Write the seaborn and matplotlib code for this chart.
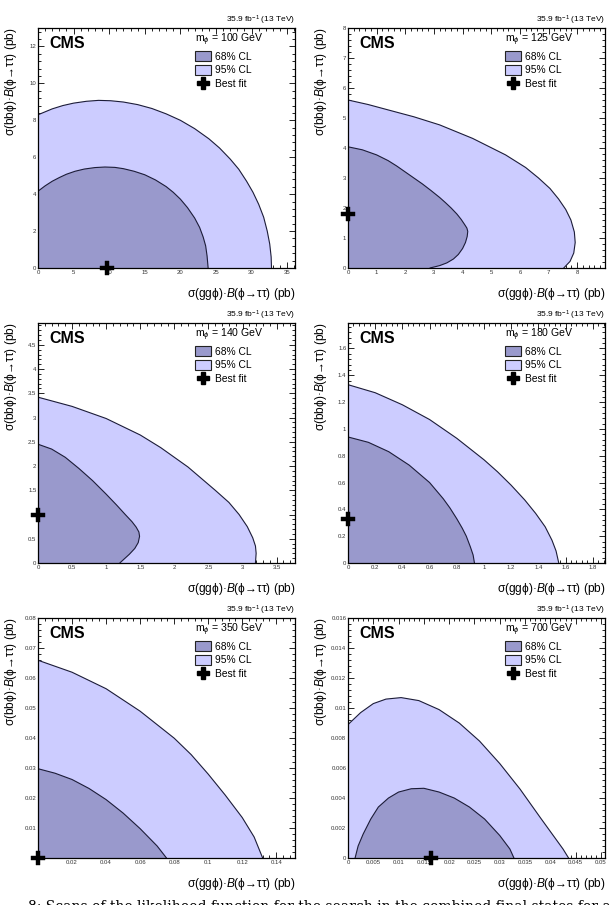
"""
2D likelihood scans sigma(gg phi)*B vs sigma(bb phi)*B, six mass points.
"""

import numpy as np
import matplotlib
matplotlib.use("Agg")
import matplotlib.pyplot as plt
import seaborn as sns
from matplotlib.patches import Patch
from matplotlib.lines import Line2D
from matplotlib.ticker import MultipleLocator, AutoMinorLocator, FuncFormatter

MASSES = [100, 125, 140, 180, 350, 700]

# ---- contours (x = ggphi, y = bbphi, in pb) ----
CL95_X_100 = [0, 2, 3.5, 5, 6.8, 8.5, 10.2, 12, 14, 16, 18, 20, 22, 24, 25.5, 27, 28.2,
              29.3, 30.2, 31.0, 31.7, 32.2, 32.55, 32.75, 32.8]
CL95_Y_100 = [8.3, 8.62, 8.8, 8.93, 9.03, 9.08, 9.06, 8.99, 8.85, 8.64, 8.35, 8.0, 7.55,
              7.0, 6.5, 5.9, 5.35, 4.7, 4.1, 3.45, 2.75, 2.0, 1.3, 0.6, 0]
CL68_X_100 = [0, 1, 2, 3, 4, 5.2, 6.5, 8, 9.4, 10.8, 12, 13.5, 15, 16.5, 18, 19, 20, 21,
              22, 22.7, 23.2, 23.55, 23.75, 23.9]
CL68_Y_100 = [4.16, 4.45, 4.7, 4.9, 5.08, 5.24, 5.36, 5.44, 5.47, 5.45, 5.38, 5.24, 5.05,
              4.77, 4.41, 4.1, 3.73, 3.27, 2.71, 2.2, 1.68, 1.2, 0.65, 0]

CL95_X_125 = [0, 0.7, 1.4, 2.3, 3.2, 4.35, 5.5, 6.2, 6.65, 7.05, 7.35, 7.6, 7.78, 7.9,
              7.93, 7.88, 7.75, 7.53]
CL95_Y_125 = [5.6, 5.45, 5.27, 5.04, 4.77, 4.32, 3.77, 3.35, 3.0, 2.65, 2.3, 1.95, 1.6,
              1.2, 0.85, 0.5, 0.22, 0]
CL68_X_125 = [0, 0.5, 1.0, 1.4, 1.7, 2.0, 2.3, 2.6, 2.9, 3.2, 3.4, 3.6, 3.8, 3.95, 4.07,
              4.15, 4.18, 4.16, 4.1, 4.0, 3.85, 3.68, 3.45, 3.2, 2.86]
CL68_Y_125 = [4.04, 3.94, 3.77, 3.58, 3.4, 3.2, 3.0, 2.8, 2.58, 2.35, 2.18, 2.0, 1.8,
              1.62, 1.45, 1.33, 1.22, 1.05, 0.85, 0.65, 0.45, 0.3, 0.17, 0.08, 0]

CL95_X_140 = [0, 0.5, 1.0, 1.5, 1.8, 2.2, 2.6, 2.8, 2.95, 3.07, 3.15, 3.19, 3.2, 3.19]
CL95_Y_140 = [3.42, 3.23, 2.98, 2.64, 2.38, 1.98, 1.5, 1.25, 1.0, 0.75, 0.52, 0.35, 0.2, 0]
CL68_X_140 = [0, 0.2, 0.4, 0.6, 0.8, 1.0, 1.15, 1.28, 1.38, 1.44, 1.48, 1.49, 1.47, 1.42,
              1.34, 1.2]
CL68_Y_140 = [2.45, 2.35, 2.18, 1.95, 1.7, 1.42, 1.2, 1.0, 0.85, 0.74, 0.64, 0.55, 0.42,
              0.3, 0.18, 0]

CL95_X_180 = [0, 0.2, 0.4, 0.6, 0.8, 1.0, 1.1, 1.2, 1.3, 1.38, 1.45, 1.5, 1.53, 1.55]
CL95_Y_180 = [1.33, 1.27, 1.18, 1.07, 0.93, 0.77, 0.68, 0.58, 0.47, 0.37, 0.27, 0.17, 0.09, 0]
CL68_X_180 = [0, 0.15, 0.3, 0.45, 0.6, 0.65, 0.7, 0.75, 0.8, 0.84, 0.87, 0.9, 0.92, 0.93]
CL68_Y_180 = [0.94, 0.9, 0.83, 0.73, 0.6, 0.54, 0.48, 0.41, 0.33, 0.26, 0.2, 0.12, 0.06, 0]

CL95_X_350 = [0, 0.02, 0.04, 0.06, 0.08, 0.09, 0.1, 0.11, 0.12, 0.127, 0.132]
CL95_Y_350 = [0.066, 0.062, 0.0565, 0.049, 0.04, 0.0345, 0.028, 0.021, 0.0135, 0.007, 0]
CL68_X_350 = [0, 0.01, 0.02, 0.03, 0.04, 0.05, 0.06, 0.07, 0.0755]
CL68_Y_350 = [0.0298, 0.0283, 0.0262, 0.0232, 0.0195, 0.015, 0.0098, 0.004, 0]

CL95_X_700 = [0, 0.0025, 0.005, 0.0075, 0.0105, 0.014, 0.018, 0.022, 0.026, 0.03, 0.034,
              0.038, 0.041, 0.0425, 0.0436]
CL95_Y_700 = [0.0089, 0.0097, 0.0103, 0.0106, 0.0107, 0.0105, 0.0099, 0.009, 0.0078, 0.0063,
              0.0046, 0.0027, 0.0013, 0.0006, 0]
CL68_X_700 = [0.0014, 0.002, 0.003, 0.0045, 0.006, 0.008, 0.01, 0.0125, 0.015, 0.018, 0.021,
              0.024, 0.027, 0.03, 0.032, 0.0328]
CL68_Y_700 = [0, 0.0008, 0.0016, 0.0026, 0.0034, 0.004, 0.0044, 0.00462, 0.00465, 0.0044,
              0.004, 0.0034, 0.0026, 0.0015, 0.0006, 0]

BEST_X = [9.7, 0, 0, 0, 0, 0.0165]
BEST_Y = [0, 1.8, 1.0, 0.33, 0, 0]

CL95_X = [CL95_X_100, CL95_X_125, CL95_X_140, CL95_X_180, CL95_X_350, CL95_X_700]
CL95_Y = [CL95_Y_100, CL95_Y_125, CL95_Y_140, CL95_Y_180, CL95_Y_350, CL95_Y_700]
CL68_X = [CL68_X_100, CL68_X_125, CL68_X_140, CL68_X_180, CL68_X_350, CL68_X_700]
CL68_Y = [CL68_Y_100, CL68_Y_125, CL68_Y_140, CL68_Y_180, CL68_Y_350, CL68_Y_700]

# axis ranges and major tick steps per panel
XLIM = [36.1, 8.97, 3.77, 1.89, 0.151, 0.0508]
YLIM = [13.0, 8.0, 4.95, 1.79, 0.0801, 0.01601]
XSTEP = [5, 1, 0.5, 0.2, 0.02, 0.005]
YSTEP = [2, 1, 0.5, 0.2, 0.01, 0.002]

C68 = "#9999cc"
C95 = "#ccccff"
LINE = "#1c1c38"

sns.set_theme(style="ticks")
plt.rcParams["font.family"] = ["Liberation Sans", "DejaVu Sans"]
plt.rcParams["mathtext.fontset"] = "custom"
plt.rcParams["mathtext.rm"] = "Liberation Sans"
plt.rcParams["mathtext.it"] = "Liberation Sans:italic"
plt.rcParams["mathtext.bf"] = "Liberation Sans:bold"
plt.rcParams["text.color"] = "black"
plt.rcParams["axes.labelcolor"] = "black"

XLABEL = "σ(ggϕ)·$\\mathit{B}$(ϕ→ττ) (pb)"
YLABEL = "σ(bbϕ)·$\\mathit{B}$(ϕ→ττ) (pb)"

fig = plt.figure(figsize=(6.15, 9.05), dpi=100)
W, H = 615, 905
lefts = [38, 348]
tops = [28, 323, 618]

for i, m in enumerate(MASSES):
    r, c = divmod(i, 2)
    l, t = lefts[c], tops[r]
    ax = fig.add_axes([l / W, 1 - (t + 240) / H, 257 / W, 240 / H])

    # filled regions (95% first, 68% on top); close along the axes
    ax.fill(CL95_X[i] + [0], CL95_Y[i] + [0], color=C95, lw=0, zorder=1)
    if CL68_X[i][0] == 0:
        ax.fill(CL68_X[i] + [0], CL68_Y[i] + [0], color=C68, lw=0, zorder=2)
    else:
        ax.fill(CL68_X[i], CL68_Y[i], color=C68, lw=0, zorder=2)
    sns.lineplot(x=CL95_X[i], y=CL95_Y[i], sort=False, estimator=None, color=LINE,
                 lw=0.8, ax=ax, zorder=3)
    sns.lineplot(x=CL68_X[i], y=CL68_Y[i], sort=False, estimator=None, color=LINE,
                 lw=0.8, ax=ax, zorder=3)
    sns.scatterplot(x=[BEST_X[i]], y=[BEST_Y[i]], marker="P", s=110, color="black",
                    edgecolor="black", linewidth=0.3, ax=ax, zorder=6, clip_on=False)

    ax.set_xlim(0, XLIM[i])
    ax.set_ylim(0, YLIM[i])
    ax.xaxis.set_major_locator(MultipleLocator(XSTEP[i]))
    ax.yaxis.set_major_locator(MultipleLocator(YSTEP[i]))
    ax.xaxis.set_minor_locator(AutoMinorLocator(5))
    ax.yaxis.set_minor_locator(AutoMinorLocator(5))
    hide0 = (m == 350)
    fmt = FuncFormatter(lambda v, _, h=hide0: "" if (h and abs(v) < 1e-12) else f"{round(v, 6):g}")
    ax.xaxis.set_major_formatter(fmt)
    ax.yaxis.set_major_formatter(fmt)
    ax.tick_params(which="both", direction="in", top=True, right=True, width=0.6,
                   colors="black", labelsize=4.3, labelcolor="#333333")
    ax.tick_params(which="major", length=4, pad=1.2)
    ax.tick_params(which="minor", length=2)
    for sp in ax.spines.values():
        sp.set_linewidth(0.9)
        sp.set_color("black")
        sp.set_zorder(5)

    ax.set_xlabel(XLABEL, fontsize=8.6, ha="right")
    ax.set_ylabel(YLABEL, fontsize=8.6, ha="right")
    ax.xaxis.set_label_coords(1.0, -0.075)
    ax.yaxis.set_label_coords(-0.075, 1.0)

    ax.text(1.0, 1.006, "35.9 fb$^{-1}$ (13 TeV)", transform=ax.transAxes,
            ha="right", va="bottom", fontsize=6)
    ax.text(0.045, 0.965, "CMS", transform=ax.transAxes, ha="left", va="top",
            fontsize=11.5, fontweight="bold")

    handles = [
        Patch(facecolor=C68, edgecolor="#222222", lw=0.8, label="68% CL"),
        Patch(facecolor=C95, edgecolor="#222222", lw=0.8, label="95% CL"),
        Line2D([], [], marker="P", ls="none", color="black", ms=9, label="Best fit"),
    ]
    leg = ax.legend(handles=handles, title=f"m$_{{ϕ}}$ = {m} GeV", loc="upper left",
                    bbox_to_anchor=(0.61, 0.985), frameon=False, fontsize=7.4,
                    title_fontsize=7.6, handlelength=1.6, handleheight=1.05,
                    handletextpad=0.4, labelspacing=0.33, borderpad=0,
                    borderaxespad=0, alignment="left")
    leg.set_zorder(7)

# caption line, cut off by the bottom edge as in the source page
fig.text(28 / W, -6 / H,
         "8: Scans of the likelihood function for the search in the combined final states for a single",
         ha="left", va="baseline", fontsize=10, family="DejaVu Serif")

fig.savefig("out.png", dpi=100)
plt.close(fig)
